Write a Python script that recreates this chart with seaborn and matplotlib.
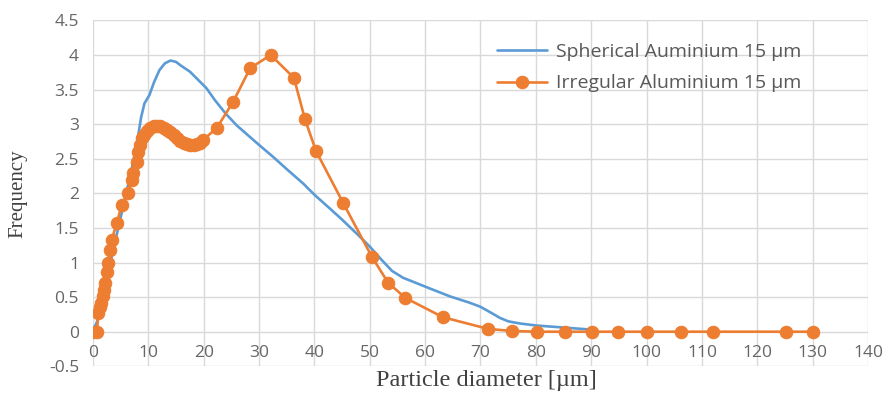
import matplotlib
matplotlib.use("Agg")
import matplotlib.pyplot as plt
import seaborn as sns
import numpy as np

# Data
spherical_x = [0, 1, 2, 3, 4, 5, 6, 7, 8, 8.7, 9.3, 10.2, 11, 12, 13, 14, 15, 16,
               17.5, 19, 20.5, 22, 24, 26, 28, 30, 32.5, 35, 38, 40, 42.8, 45, 48,
               50, 52, 54, 56, 58.5, 61, 64.5, 68, 70, 72, 73.5, 75, 77, 80, 85, 90]
spherical_y = [0, 0.2, 0.55, 0.95, 1.3, 1.65, 2.0, 2.35, 2.75, 3.1, 3.3, 3.42, 3.6,
               3.78, 3.88, 3.92, 3.9, 3.84, 3.76, 3.64, 3.52, 3.35, 3.15, 2.98, 2.84,
               2.7, 2.53, 2.35, 2.14, 1.98, 1.78, 1.62, 1.39, 1.23, 1.05, 0.88, 0.78,
               0.70, 0.62, 0.51, 0.42, 0.36, 0.27, 0.2, 0.15, 0.12, 0.09, 0.06, 0.03]

irregular_x = [0, 0.7, 1.0, 1.3, 1.5, 1.8, 2.0, 2.2, 2.5, 2.7,
               3.1, 3.4, 4.3, 5.2, 6.3, 7.0, 7.2, 7.9, 8.1, 8.5,
               8.9, 9.3, 9.7, 10.3, 11.0, 11.6, 12.2, 12.8, 13.4, 14.0,
               14.6, 15.2, 15.8, 16.4, 17.0, 17.6, 18.2, 18.8, 19.4, 19.9,
               22.4, 25.3, 28.4, 32.1, 36.3, 38.3, 40.3, 45.2, 50.4, 53.3,
               56.4, 63.2, 71.4, 75.7, 80.2, 85.3, 90.1, 94.8, 100.1, 106.2,
               112, 125.2, 130]
irregular_y = [0, 0, 0.27, 0.35, 0.42, 0.52, 0.6, 0.7, 0.86, 1.0,
               1.18, 1.33, 1.57, 1.83, 2.0, 2.2, 2.3, 2.45, 2.6, 2.7,
               2.8, 2.85, 2.9, 2.95, 2.97, 2.98, 2.97, 2.95, 2.92, 2.88,
               2.84, 2.8, 2.76, 2.73, 2.71, 2.7, 2.7, 2.71, 2.73, 2.77,
               2.95, 3.32, 3.81, 4.0, 3.67, 3.07, 2.61, 1.86, 1.08, 0.71,
               0.49, 0.21, 0.04, 0.01, 0, 0, 0, 0, 0, 0,
               0, 0, 0]

x_ticks = list(range(0, 141, 10))
y_ticks = [-0.5, 0, 0.5, 1, 1.5, 2, 2.5, 3, 3.5, 4, 4.5]
y_tick_labels = ["-0.5", "0", "0.5", "1", "1.5", "2", "2.5", "3", "3.5", "4", "4.5"]

label_spherical = "Spherical Auminium 15 µm"
label_irregular = "Irregular Aluminium 15 µm"
x_title = "Particle diameter [µm]"
y_title = "Frequency"

sns.set_style("white")
plt.rcParams["font.family"] = ["Open Sans", "DejaVu Sans"]

fig = plt.figure(figsize=(8.87, 4.0), dpi=100)
ax = fig.add_axes([0.1048, 0.0843, 0.8738, 0.8647])

blue = "#5B9BD5"
orange = "#ED7D31"

sns.lineplot(x=spherical_x, y=spherical_y, ax=ax, color=blue, linewidth=1.9,
             label=label_spherical, zorder=3)
sns.lineplot(x=irregular_x, y=irregular_y, ax=ax, color=orange, linewidth=1.9,
             marker="o", markersize=9, markeredgecolor=orange,
             label=label_irregular, zorder=4)

ax.set_xlim(0, 140)
ax.set_ylim(-0.5, 4.5)
ax.set_xticks(x_ticks)
ax.set_yticks(y_ticks)
ax.set_yticklabels(y_tick_labels)

ax.grid(True, color="#D9D9D9", linewidth=1.0)
ax.set_axisbelow(True)
for s in ["top", "right", "left"]:
    ax.spines[s].set_visible(False)
ax.spines["bottom"].set_position(("data", 0))
ax.spines["bottom"].set_color("none")

ax.tick_params(axis="both", length=0, labelsize=12.5, labelcolor="#666666")
ax.tick_params(axis="x", pad=9.5)
ax.tick_params(axis="y", pad=10)

serif = ["Liberation Serif", "DejaVu Serif"]
ax.set_xlabel(x_title, fontsize=17.5, family=serif, color="#404040")
ax.xaxis.set_label_coords(0.508, -0.012)
ax.set_ylabel(y_title, fontsize=15, family=serif, color="#404040")
ax.yaxis.set_label_coords(-0.084, 0.5)

leg = ax.legend(loc="upper left", bbox_to_anchor=(0.521, 0.935), frameon=False,
                fontsize=14, handlelength=2.6, handletextpad=0.45,
                labelspacing=0.7, borderaxespad=0, borderpad=0)
for t in leg.get_texts():
    t.set_color("#595959")

fig.savefig("out.png", dpi=100)
